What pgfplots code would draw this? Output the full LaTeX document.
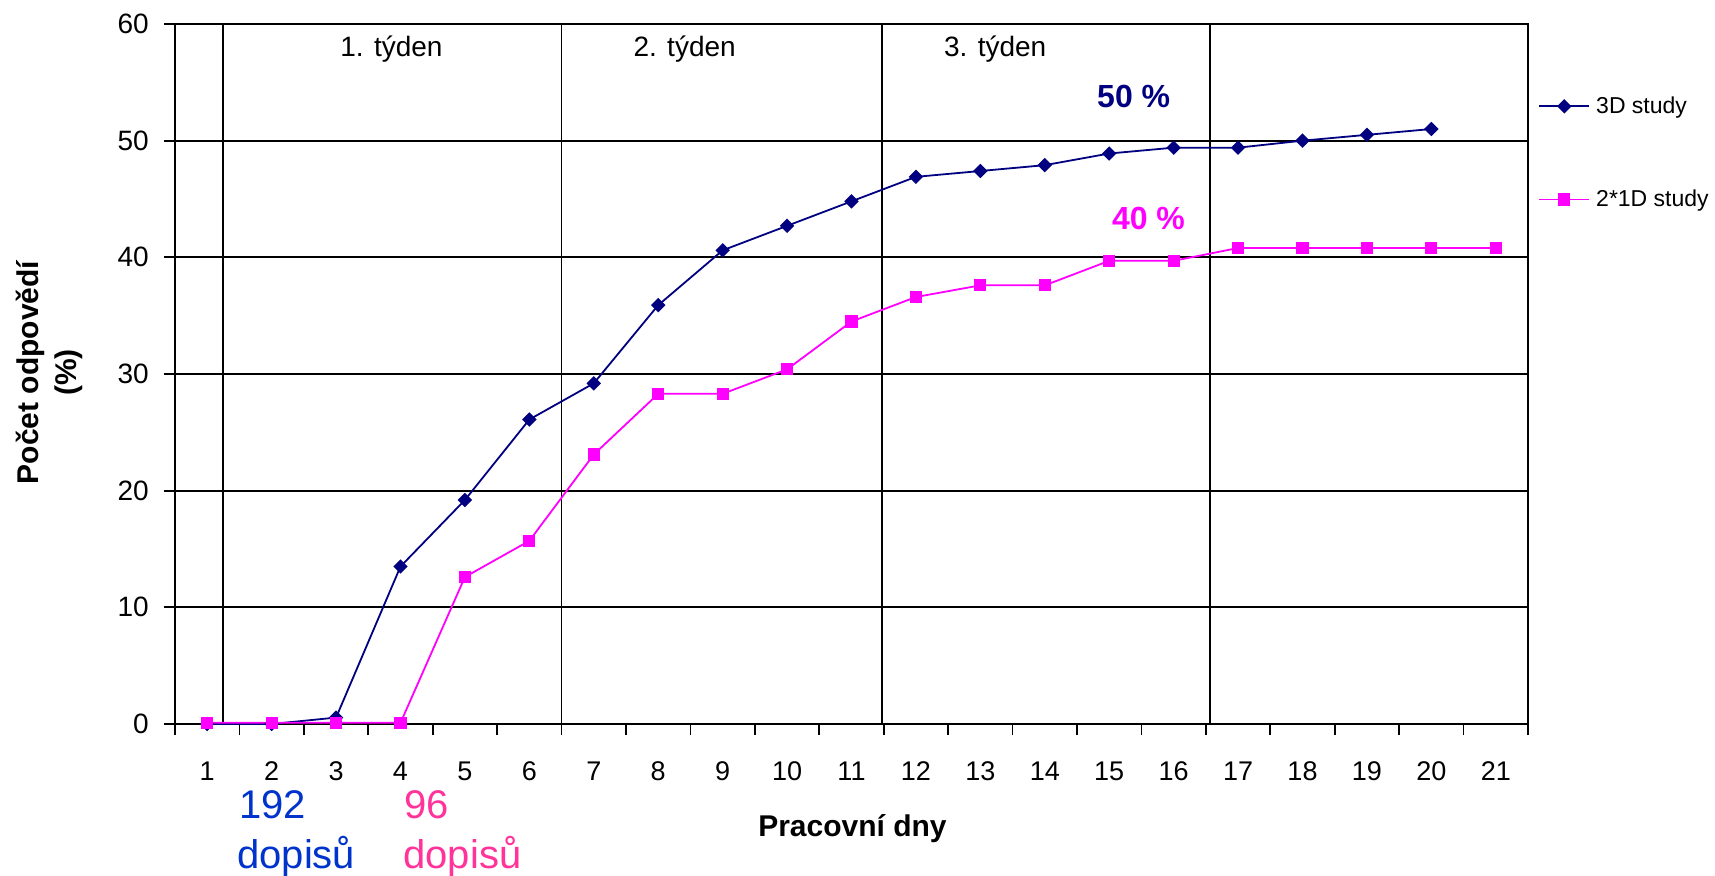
\documentclass[border=0pt]{standalone}
\usepackage{pgfplots}
\pgfplotsset{compat=1.18}
\usepackage{fontspec}
\setmainfont{Liberation Sans}
\definecolor{navy3d}{RGB}{0,0,128}
\definecolor{mag}{RGB}{255,0,255}
\definecolor{c192}{RGB}{0,51,204}
\definecolor{c96}{RGB}{255,51,153}
\begin{document}
\begin{tikzpicture}
\begin{axis}[
  at={(0pt,0pt)}, anchor=south west,
  scale only axis, width=676.5pt, height=350pt,
  xmin=0.5, xmax=21.5, ymin=0, ymax=60,
  clip=false,
  axis line style={line width=0.9pt},
  every tick/.style={black, line width=0.9pt},
  tick align=outside,
  tick pos=left,
  xtick={0.5,1.5,...,21.5},
  xticklabels={1,2,3,4,5,6,7,8,9,10,11,12,13,14,15,16,17,18,19,20,21,{}},
  major tick length=5.5pt,
  ytick={0,10,...,60},
  ymajorgrids,
  grid style={black, line width=0.9pt},
  extra x ticks={1.25,6.5,11.47,16.56},
  extra x tick labels={},
  extra x tick style={grid=major, major tick length=0pt},
  /pgf/number format/assume math mode=true,
  xticklabel style={font=\fontsize{13.5}{15}\selectfont, xshift=16.11pt, yshift=-10pt},
  yticklabel style={font=\fontsize{14}{16}\selectfont, xshift=-4.1pt},
  legend style={draw=none, fill=none, inner sep=0pt, at={(1.0074,0.897)}, anchor=north west,
    font=\fontsize{11.5}{13}\selectfont, row sep=36.7pt, column sep=3pt,
    nodes={inner sep=0pt, anchor=west}},
  legend cell align=left,
  legend image code/.code={\draw[#1, mark repeat=2, mark phase=2] plot coordinates {(0pt,0pt)(12.5pt,0pt)(25pt,0pt)};},
]
\addplot[navy3d, line width=0.9pt, mark=square*, mark size=2.1pt, mark options={rotate=45, solid}] coordinates {
(1,0) (2,0) (3,0.55) (4,13.5) (5,19.2) (6,26.1) (7,29.2) (8,35.9) (9,40.6) (10,42.7)
(11,44.8) (12,46.9) (13,47.4) (14,47.9) (15,48.9) (16,49.4) (17,49.4) (18,50.0) (19,50.5) (20,51.0)
};
\addplot[mag, line width=0.9pt, mark=square*, mark size=2.6pt, mark options={solid}] coordinates {
(1,0.1) (2,0.1) (3,0.1) (4,0.1) (5,12.6) (6,15.7) (7,23.1) (8,28.3) (9,28.3) (10,30.4)
(11,34.5) (12,36.6) (13,37.6) (14,37.6) (15,39.7) (16,39.7) (17,40.8) (18,40.8) (19,40.8) (20,40.8) (21,40.8)
};
\legend{3D study, 2*1D study}
\node[font=\fontsize{14}{16}\selectfont] at (axis cs:3.86,57.86) {1. týden};
\node[font=\fontsize{14}{16}\selectfont] at (axis cs:8.41,57.86) {2. týden};
\node[font=\fontsize{14}{16}\selectfont] at (axis cs:13.23,57.86) {3. týden};
\node[font=\bfseries\fontsize{16}{18}\selectfont, text=navy3d] at (axis cs:15.38,53.77) {50 \%};
\node[font=\bfseries\fontsize{16}{18}\selectfont, text=mag] at (axis cs:15.61,43.34) {40 \%};
\end{axis}
\node[font=\bfseries\fontsize{15}{18}\selectfont, anchor=base] at (338.75pt,-56.3pt) {Pracovní dny};
\node[font=\bfseries\fontsize{15}{19}\selectfont, rotate=90, align=center] at (-63pt,175.75pt) {Počet odpovědí\\(\%)};
\node[font=\fontsize{20}{25}\selectfont, text=c192, anchor=base west, inner sep=0pt] at (32pt,-47pt) {192};
\node[font=\fontsize{20}{25}\selectfont, text=c192, anchor=base west, inner sep=0pt] at (31pt,-72pt) {dopisů};
\node[font=\fontsize{20}{25}\selectfont, text=c96, anchor=base west, inner sep=0pt] at (114.5pt,-47pt) {96};
\node[font=\fontsize{20}{25}\selectfont, text=c96, anchor=base west, inner sep=0pt] at (114pt,-72pt) {dopisů};
\pgfresetboundingbox
\path[use as bounding box] (-87.5pt,-75.5pt) rectangle (770pt,362pt);
\end{tikzpicture}
\end{document}
